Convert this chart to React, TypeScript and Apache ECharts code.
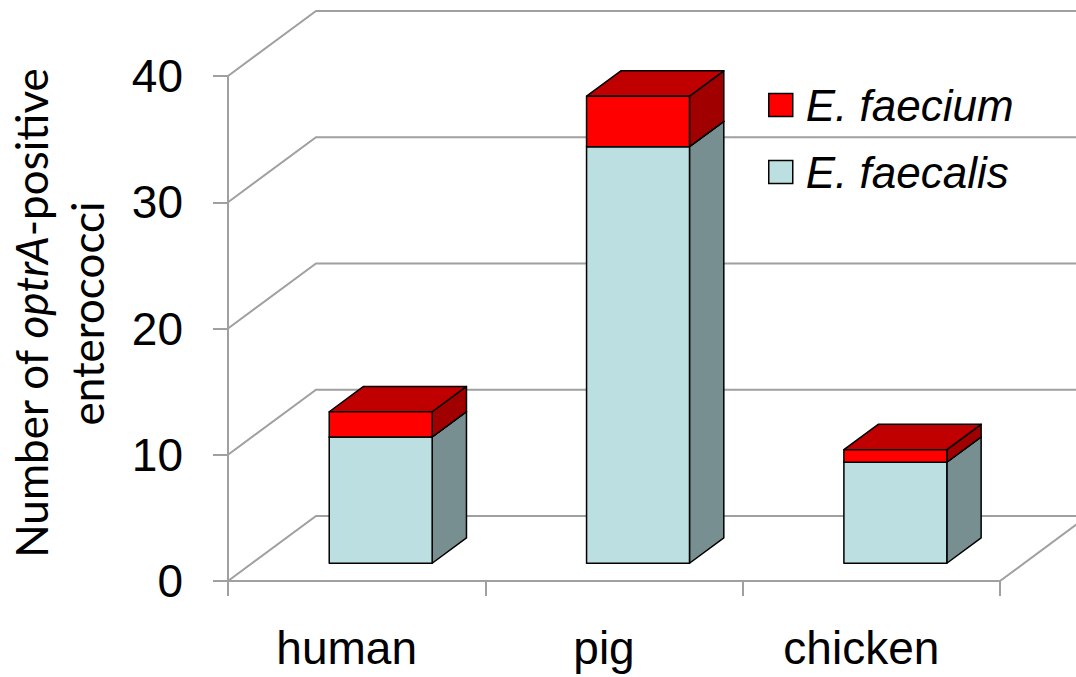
import React, { useEffect, useRef } from 'react';
import * as echarts from 'echarts';

const categories = ['human', 'pig', 'chicken'];
const faecalis = [10, 33, 8];
const faecium = [2, 4, 1];
const yTicks = [0, 10, 20, 30, 40];
const seriesNames = ['E. faecium', 'E. faecalis'];

const DX = 88;
const DY = 65;
const F0 = 0.273;
const FD = 0.39;
const BAR_W = 0.4;
const GRID_COLOR = '#A0A0A0';

type Colors = { front: string; top: string; side: string };

function barRenderer(colors: Colors) {
  return (params: any, api: any) => {
    const i = api.value(0);
    const base = api.value(1);
    const top = api.value(2);
    const pb = api.coord([i, base]);
    const pt = api.coord([i, top]);
    const bw = api.size([1, 0])[0];
    const w = bw * BAR_W;
    const x0 = pb[0] - w / 2 + DX * F0;
    const x1 = x0 + w;
    const yb = pb[1] - DY * F0;
    const yt = pt[1] - DY * F0;
    const ddx = DX * FD;
    const ddy = DY * FD;
    const stroke = { stroke: '#000', lineWidth: 1.5, lineJoin: 'round' };
    return {
      type: 'group',
      children: [
        {
          type: 'polygon',
          shape: { points: [[x1, yb], [x1 + ddx, yb - ddy], [x1 + ddx, yt - ddy], [x1, yt]] },
          style: { fill: colors.side, ...stroke },
        },
        {
          type: 'polygon',
          shape: { points: [[x0, yt], [x1, yt], [x1 + ddx, yt - ddy], [x0 + ddx, yt - ddy]] },
          style: { fill: colors.top, ...stroke },
        },
        {
          type: 'rect',
          shape: { x: x0, y: yt, width: w, height: yb - yt },
          style: { fill: colors.front, ...stroke },
        },
      ],
    };
  };
}

function wallRenderer(params: any, api: any) {
  const v = api.value(1);
  const p = api.coord([0, v]);
  const cs = params.coordSys;
  const left = cs.x;
  const right = cs.x + cs.width;
  const y = p[1];
  const style = { stroke: GRID_COLOR, lineWidth: 2, fill: 'none' };
  const children: any[] = [
    {
      type: 'polyline',
      shape: { points: [[left, y], [left + DX, y - DY], [right + DX + 40, y - DY]] },
      style,
    },
  ];
  if (v === 0) {
    children.push({
      type: 'line',
      shape: { x1: right, y1: y, x2: right + DX, y2: y - DY },
      style,
    });
  }
  return { type: 'group', children };
}

export default function App() {
  const ref = useRef<HTMLDivElement>(null);
  useEffect(() => {
    if (!ref.current) return;
    const chart = echarts.init(ref.current, null, { renderer: 'svg' });
    const option: any = {
      animation: false,
      backgroundColor: '#fff',
      textStyle: { fontFamily: 'Liberation Sans' },
      grid: {
        left: 228,
        right: 76,
        top: 76,
        bottom: 96,
        containLabel: false,
        outerBoundsMode: 'none',
      },
      legend: {
        orient: 'vertical',
        left: 763,
        top: 76,
        itemWidth: 24,
        itemHeight: 23,
        itemGap: 19,
        icon: 'rect',
        data: seriesNames,
        itemStyle: { borderColor: '#000', borderWidth: 1.5 },
        textStyle: {
          fontSize: 44,
          fontStyle: 'italic',
          color: '#000',
          fontFamily: 'Liberation Sans',
          lineHeight: 48,
          padding: [0, 0, 0, 8],
        },
      },
      xAxis: {
        type: 'category',
        data: categories,
        boundaryGap: true,
        axisLine: { lineStyle: { color: GRID_COLOR, width: 2 } },
        axisTick: { show: true, alignWithLabel: false, length: 15, lineStyle: { color: GRID_COLOR, width: 2 } },
        axisLabel: {
          fontSize: 46,
          color: '#000',
          margin: 44,
          fontFamily: 'Liberation Sans',
          padding: [0, 20, 0, 0],
        },
        splitLine: { show: false },
      },
      yAxis: {
        type: 'value',
        min: 0,
        max: 40,
        interval: 10,
        axisLine: { show: true, lineStyle: { color: GRID_COLOR, width: 2 } },
        axisTick: { show: true, length: 15, lineStyle: { color: GRID_COLOR, width: 2 } },
        axisLabel: { fontSize: 46, color: '#000', margin: 45, fontFamily: 'Liberation Sans' },
        splitLine: { show: false },
        name: '{a|Number of }{i|optrA}{a|-positive}\n{a|enterococci}',
        nameLocation: 'middle',
        nameRotate: 90,
        nameGap: 113,
        nameTextStyle: {
          fontFamily: 'Lato',
          fontSize: 44,
          color: '#000',
          lineHeight: 56,
          padding: [0, 0, 0, 30],
          rich: {
            a: { fontFamily: 'Lato', fontSize: 44, color: '#000', lineHeight: 56 },
            i: { fontFamily: 'Lato', fontSize: 44, color: '#000', fontStyle: 'italic', lineHeight: 56 },
          },
        },
      },
      series: [
        {
          type: 'custom',
          name: 'wall',
          silent: true,
          z: 1,
          data: yTicks.map((v) => [0, v]),
          encode: { x: 0, y: 1 },
          renderItem: wallRenderer,
        },
        {
          type: 'custom',
          name: 'E. faecalis',
          z: 2,
          itemStyle: { color: '#BCE0E2', borderColor: '#000', borderWidth: 1.5 },
          data: faecalis.map((v, i) => [i, 0, v]),
          encode: { x: 0, y: [1, 2] },
          renderItem: barRenderer({ front: '#BCE0E2', top: '#9FC4C6', side: '#778F90' }),
        },
        {
          type: 'custom',
          name: 'E. faecium',
          z: 3,
          itemStyle: { color: '#FF0000', borderColor: '#000', borderWidth: 1.5 },
          data: faecium.map((v, i) => [i, faecalis[i], faecalis[i] + v]),
          encode: { x: 0, y: [1, 2] },
          renderItem: barRenderer({ front: '#FF0000', top: '#C00000', side: '#A00000' }),
        },
      ],
    };
    chart.setOption(option);
    return () => chart.dispose();
  }, []);
  return (
    <div
      ref={ref}
      style={{ position: 'fixed', left: 0, top: 0, width: 1076, height: 677, background: '#fff' }}
    />
  );
}
